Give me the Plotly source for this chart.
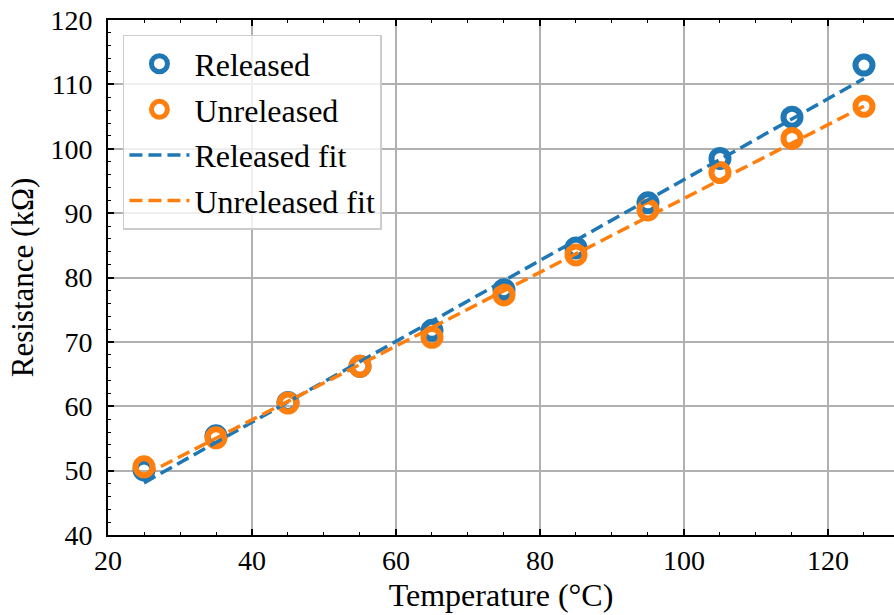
import plotly.graph_objects as go

temperature = [25, 35, 45, 55, 65, 75, 85, 95, 105, 115, 125]
released = [50.1, 55.4, 60.6, 66.2, 71.8, 78.1, 84.6, 91.6, 98.5, 104.9, 113.0]
unreleased = [50.6, 55.1, 60.5, 66.2, 70.7, 77.3, 83.5, 90.5, 96.3, 101.6, 106.6]
fit_temperature = [25, 125]
released_fit = [48.1, 110.9]
unreleased_fit = [49.3, 106.6]

blue = "#1f77b4"
orange = "#ff7f0e"
FONT = "Liberation Serif"

fig = go.Figure()
fig.add_trace(go.Scatter(x=temperature, y=released, mode="markers", name="Released",
                         legendgroup="a",
                         marker=dict(symbol="circle-open", size=17, color=blue,
                                     line=dict(width=6, color=blue))))
fig.add_trace(go.Scatter(x=temperature, y=unreleased, mode="markers", name="Unreleased",
                         legendgroup="b",
                         marker=dict(symbol="circle-open", size=17, color=orange,
                                     line=dict(width=6, color=orange))))
fig.add_trace(go.Scatter(x=fit_temperature, y=released_fit, mode="lines", name="Released fit",
                         legendgroup="c",
                         line=dict(color=blue, width=3.5, dash="13px,6px")))
fig.add_trace(go.Scatter(x=fit_temperature, y=unreleased_fit, mode="lines", name="Unreleased fit",
                         legendgroup="d",
                         line=dict(color=orange, width=3.5, dash="13px,6px")))

axis_common = dict(
    showline=True, linecolor="black", linewidth=1.6,
    ticks="inside", ticklen=6, tickwidth=1.6, tickcolor="black",
    showgrid=True, gridcolor="#b0b0b0", gridwidth=1.6,
    zeroline=False,
    tickfont=dict(family=FONT, size=28, color="black"),
)

fig.update_layout(
    width=894, height=615,
    margin=dict(l=108, r=0, t=20, b=80),
    paper_bgcolor="white", plot_bgcolor="white",
    font=dict(family=FONT, size=28, color="black"),
    xaxis=dict(range=[20, 129.17], dtick=20, tick0=20, mirror="ticks",
               minor=dict(ticks="inside", ticklen=3, tickwidth=1.3, tickcolor="black",
                          dtick=5, showgrid=False),
               title=dict(text="Temperature (°C)", font=dict(family=FONT, size=32), standoff=8),
               ticklabelstandoff=0,
               **axis_common),
    yaxis=dict(range=[40, 120], dtick=10, tick0=40, mirror=False,
               minor=dict(ticks="inside", ticklen=3, tickwidth=1.3, tickcolor="black",
                          dtick=2, showgrid=False),
               title=dict(text="Resistance (kΩ)", font=dict(family=FONT, size=31), standoff=8),
               ticklabelstandoff=8,
               **axis_common),
    legend=dict(x=0.019, y=0.971, xanchor="left", yanchor="top",
                bgcolor="rgba(255,255,255,0.8)", bordercolor="#cccccc", borderwidth=1.5,
                font=dict(family=FONT, size=32, color="black"),
                tracegroupgap=1, itemwidth=60),
    showlegend=True,
)

fig.write_html("out.html")
